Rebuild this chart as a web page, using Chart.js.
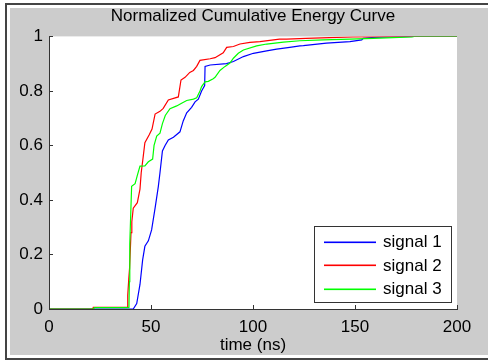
<!DOCTYPE html>
<html>
<head>
<meta charset="utf-8">
<script src="https://cdn.jsdelivr.net/npm/chart.js@4.4.0/dist/chart.umd.min.js"></script>
<style>
  body { margin: 0; background: #fff; }
  #frame { position: absolute; left: 5px; top: 3px; width: 483px; height: 353px;
           border-left: 2px solid #444; border-top: 2px solid #444; border-bottom: 2px solid #444; }
  #panel { position: absolute; left: 10px; top: 8px; width: 478px; height: 347px; background: #cccccc; }
  #wrap { position: absolute; left: 0; top: 0; width: 488px; height: 360px; }
</style>
</head>
<body>
<div id="frame"></div>
<div id="panel"></div>
<div id="wrap"><canvas id="canvas" width="488" height="360"></canvas></div>
<script>
const chartTitle = 'Normalized Cumulative Energy Curve';
const xLabel = 'time (ns)';
const seriesNames = ['signal 1', 'signal 2', 'signal 3'];
const seriesColors = ['#0000ff', '#ff0000', '#00ff00'];

// signal 1 (blue)
const t1 = [0, 41.3, 43, 44.6, 45.9, 47, 48.7, 50.3, 52, 53.6, 54.4, 55.6, 56.9, 58.5, 61, 64.2, 65.8, 67.5,
  69.9, 71.6, 73.2, 74.8, 76.3, 76.5, 79, 87, 90.4, 95.3, 100.2, 106.7, 111.6, 118, 123, 124.7, 136, 147.5,
  153.3, 154, 158, 178.5, 200];
const v1 = [0, 0, 0.02, 0.09, 0.18, 0.23, 0.25, 0.29, 0.37, 0.45, 0.5, 0.58, 0.6, 0.62, 0.63, 0.65, 0.69, 0.72,
  0.74, 0.76, 0.77, 0.8, 0.82, 0.89, 0.895, 0.9, 0.908, 0.926, 0.938, 0.947, 0.953, 0.96, 0.965, 0.966, 0.975, 0.981,
  0.987, 0.993, 0.996, 1, 1];

// signal 2 (red)
const t2 = [0, 21.5, 21.7, 38.4, 38.6, 39.1, 39.5, 40.2, 40.6, 41.3, 43.3, 44.6, 45.2, 46.2, 47, 49.2, 50.5,
  52, 54.4, 56, 58.5, 63.4, 64.7, 66.7, 69, 70.8, 72.4, 74, 79, 81.4, 85.4, 87.1, 90.4, 93.6, 98.5, 103.4,
  113, 116.5, 126, 149, 175, 200];
const v2 = [0, 0, 0.006, 0.006, 0.05, 0.11, 0.15, 0.28, 0.32, 0.37, 0.39, 0.44, 0.5, 0.56, 0.61, 0.64, 0.66,
  0.715, 0.725, 0.736, 0.767, 0.778, 0.84, 0.85, 0.868, 0.875, 0.89, 0.912, 0.918, 0.922, 0.94, 0.96, 0.963, 0.972,
  0.978, 0.981, 0.99, 0.99, 0.993, 0.998, 1, 1];

// signal 3 (green)
const t3 = [0, 22, 22.2, 39.2, 39.4, 39.6, 40.5, 42.2, 43.3, 44.6, 47, 48.7, 50.8, 51.5, 52.8, 54.4, 55.6,
  57, 59.3, 62.6, 65, 67.5, 70.8, 72.4, 74, 74.8, 76.5, 78.1, 80.5, 81.4, 83.8, 86.3, 88.7, 90.4, 92.8, 95.3,
  101.8, 106.7, 114.9, 123, 134.5, 147.5, 159, 178, 179, 200];
const v3 = [0, 0, 0.005, 0.005, 0.1, 0.24, 0.45, 0.46, 0.49, 0.524, 0.525, 0.54, 0.55, 0.6, 0.634, 0.645, 0.68,
  0.71, 0.735, 0.745, 0.755, 0.765, 0.77, 0.775, 0.8, 0.816, 0.833, 0.835, 0.845, 0.85, 0.875, 0.89, 0.902, 0.92,
  0.938, 0.95, 0.965, 0.972, 0.979, 0.984, 0.987, 0.99, 0.993, 0.998, 1, 1];

const xTicks = [0, 50, 100, 150, 200];
const yTicks = [0, 0.2, 0.4, 0.6, 0.8, 1];
const yTickLabels = ['0', '0.2', '0.4', '0.6', '0.8', '1'];

const seriesT = [t1, t2, t3];
const seriesV = [v1, v2, v3];

const FONT = "'Liberation Sans', Arial, sans-serif";

function toPoints(ts, vs) {
  return ts.map((t, i) => ({ x: t, y: vs[i] }));
}

const datasets = seriesNames.map((name, i) => ({
  label: name,
  data: toPoints(seriesT[i], seriesV[i]),
  borderColor: seriesColors[i],
  backgroundColor: seriesColors[i],
  borderWidth: 1.2,
  pointRadius: 0,
  fill: false,
  tension: 0,
  order: 3 - i
}));

// white plot background + inward tick marks
const plotBox = {
  id: 'plotBox',
  beforeDraw(chart) {
    const { ctx, chartArea: a } = chart;
    ctx.save();
    ctx.fillStyle = '#ffffff';
    ctx.fillRect(a.left, a.top, a.right - a.left, a.bottom - a.top);
    ctx.restore();
  },
  afterDatasetsDraw(chart) {
    const { ctx, chartArea: a, scales } = chart;
    ctx.save();
    ctx.strokeStyle = '#333';
    ctx.lineWidth = 1;
    ctx.beginPath();
    xTicks.forEach(v => {
      const px = Math.round(scales.x.getPixelForValue(v)) + 0.5;
      ctx.moveTo(px, a.bottom);
      ctx.lineTo(px, a.bottom - 4);
    });
    yTicks.forEach(v => {
      const py = Math.round(scales.y.getPixelForValue(v)) + 0.5;
      ctx.moveTo(a.left, py);
      ctx.lineTo(a.left + 4, py);
    });
    ctx.stroke();
    ctx.restore();
  }
};

// boxed legend inside the plot, lower right
const boxLegend = {
  id: 'boxLegend',
  afterDraw(chart) {
    const { ctx } = chart;
    const x0 = 314, y0 = 226, w = 137, h = 76;
    ctx.save();
    ctx.fillStyle = '#ffffff';
    ctx.fillRect(x0, y0, w, h);
    ctx.strokeStyle = '#333';
    ctx.lineWidth = 1;
    ctx.strokeRect(x0 + 0.5, y0 + 0.5, w, h);
    ctx.font = '17px ' + FONT;
    ctx.textBaseline = 'middle';
    seriesNames.forEach((name, i) => {
      const y = y0 + 15.5 + i * 23.5;
      ctx.fillStyle = seriesColors[i];
      ctx.fillRect(x0 + 10, Math.round(y) - 0.5, 52, 1.6);
      ctx.fillStyle = '#000';
      ctx.fillText(name, x0 + 69, y + 1);
    });
    ctx.restore();
  }
};

new Chart('canvas', {
  type: 'line',
  data: { datasets: datasets },
  plugins: [plotBox, boxLegend],
  options: {
    responsive: false,
    animation: false,
    layout: { padding: { left: 0, right: 31, top: 0, bottom: 0 } },
    plugins: {
      legend: { display: false },
      tooltip: { enabled: false },
      title: {
        display: true,
        text: chartTitle,
        fullSize: false,
        color: '#000',
        font: { family: FONT, size: 17, weight: 'normal' },
        padding: { top: 6, bottom: 10 }
      }
    },
    scales: {
      x: {
        type: 'linear',
        min: 0,
        max: 200,
        afterFit: s => { s.height = 51; },
        afterBuildTicks: s => { s.ticks = xTicks.map(v => ({ value: v })); },
        grid: { display: false, drawTicks: false },
        border: { display: true, color: '#333', width: 1 },
        ticks: { color: '#000', padding: 8, maxRotation: 0, font: { family: FONT, size: 17 } },
        title: {
          display: true,
          text: xLabel,
          color: '#000',
          font: { family: FONT, size: 17 },
          padding: { top: 0, bottom: 4 }
        }
      },
      y: {
        min: 0,
        max: 1,
        afterFit: s => { s.width = 49; },
        afterBuildTicks: s => { s.ticks = yTicks.map(v => ({ value: v })); },
        grid: { display: false, drawTicks: false },
        border: { display: true, color: '#333', width: 1 },
        ticks: {
          color: '#000',
          padding: 6,
          font: { family: FONT, size: 17 },
          callback: (value, index) => yTickLabels[index]
        }
      }
    }
  }
});
</script>
</body>
</html>
